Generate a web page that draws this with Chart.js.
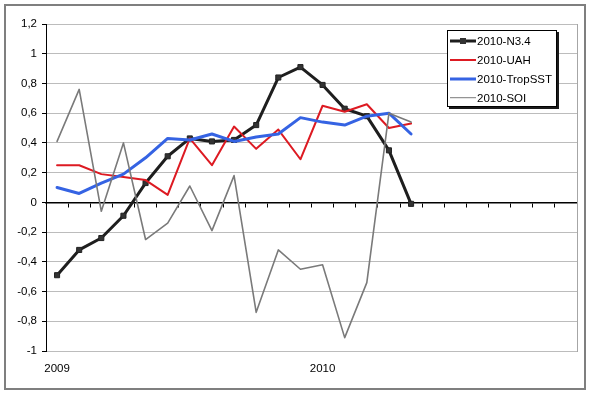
<!DOCTYPE html>
<html><head><meta charset="utf-8">
<script src="https://cdn.jsdelivr.net/npm/chart.js@4"></script>
<style>
html,body{margin:0;padding:0;background:#fff;}
#wrap{position:relative;width:590px;height:395px;overflow:hidden;background:#fff;}
#c{position:absolute;left:0;top:0;}
#frame{position:absolute;left:4px;top:4px;width:578px;height:382px;border:2px solid #7f7f7f;pointer-events:none;}
#legend{position:absolute;left:447px;top:30px;width:108px;height:75px;border:1px solid #000;box-shadow:2px 2px 0 #1a1a1a;background:#fff;font:11.5px "Liberation Sans",Arial,sans-serif;color:#000;}
.row{height:19px;display:flex;align-items:center;white-space:nowrap;}
.sample{position:relative;width:26px;height:19px;margin-left:2px;margin-right:1px;flex:none;}
.ln{position:absolute;left:0;width:26px;top:50%;transform:translateY(-50%);}
.mk{position:absolute;left:10px;top:50%;width:6px;height:6px;transform:translateY(-50%);}
</style>
</head>
<body>
<div id="wrap">
  <canvas id="c" width="590" height="395"></canvas>
  <div id="frame"></div>
  <div id="legend"></div>
</div>
<script>
// ---- data ----
const months = ['2009-01','2009-02','2009-03','2009-04','2009-05','2009-06','2009-07','2009-08','2009-09','2009-10','2009-11','2009-12',
                '2010-01','2010-02','2010-03','2010-04','2010-05','2010-06','2010-07','2010-08','2010-09','2010-10','2010-11','2010-12'];
const xTickLabels = ['2009','','','','','','','','','','','',
                     '2010','','','','','','','','','','',''];
const seriesNames = ['2010-N3.4','2010-UAH','2010-TropSST','2010-SOI'];
const n34     = [-0.49,-0.32,-0.24,-0.09,0.13,0.31,0.43,0.41,0.42,0.52,0.84,0.91,0.79,0.63,0.58,0.35,-0.01];
const uah     = [0.25,0.25,0.19,0.17,0.15,0.05,0.43,0.25,0.51,0.36,0.49,0.29,0.65,0.61,0.66,0.50,0.53];
const tropSST = [0.10,0.06,0.13,0.19,0.30,0.43,0.42,0.46,0.41,0.44,0.46,0.57,0.54,0.52,0.58,0.60,0.46];
const soi     = [0.41,0.76,-0.06,0.40,-0.25,-0.14,0.11,-0.19,0.18,-0.74,-0.32,-0.45,-0.42,-0.91,-0.54,0.60,0.54];
const yMin = -1, yMax = 1.2, yStep = 0.2;

const FONT = {family:'"Liberation Sans", Arial, sans-serif', size:11.5};
const fmt = v => Number(v.toFixed(1)).toString().replace('.', ',');

const base = {fill:false, tension:0, borderJoinStyle:'round', borderCapStyle:'round', spanGaps:false};
const datasets = [
  Object.assign({}, base, {label:seriesNames[0], data:n34, borderColor:'#1e1e1e', borderWidth:3,
    pointStyle:'rect', pointRadius:3.6, pointBorderWidth:1, pointBackgroundColor:'#333', pointBorderColor:'#222', order:4}),
  Object.assign({}, base, {label:seriesNames[1], data:uah, borderColor:'#dd1a22', borderWidth:2, pointRadius:0, order:3}),
  Object.assign({}, base, {label:seriesNames[2], data:tropSST, borderColor:'#3563e3', borderWidth:3, pointRadius:0, order:2}),
  Object.assign({}, base, {label:seriesNames[3], data:soi, borderColor:'#7a7a7a', borderWidth:1.6, pointRadius:0, order:1})
];

const chart = new Chart(document.getElementById('c'), {
  type:'line',
  data:{labels:months, datasets},
  options:{
    responsive:false, animation:false, events:[],
    layout:{padding:{left:0, right:13, top:24, bottom:0}},
    plugins:{legend:{display:false}, tooltip:{enabled:false}, title:{display:false}},
    scales:{
      x:{type:'category', position:{y:0}, offset:true,
         grid:{offset:true, drawOnChartArea:false, drawTicks:true, tickLength:4, color:'#000', tickColor:'#000', lineWidth:1},
         border:{display:true, color:'#000', width:1.5},
         ticks:{display:false, autoSkip:false}},
      x2:{type:'category', position:'bottom', offset:true,
          grid:{display:false, drawTicks:false, drawOnChartArea:false},
          border:{display:false},
          ticks:{autoSkip:false, maxRotation:0, minRotation:0, padding:11, color:'#000', font:FONT,
                 callback:(v,i)=>xTickLabels[i]},
          afterFit:s=>{s.height = 44;}},
      y:{type:'linear', position:'left', min:yMin, max:yMax,
         ticks:{stepSize:yStep, padding:5, color:'#000', font:FONT, callback:v=>fmt(v)},
         grid:{color:c=>(c.tick && Math.abs(c.tick.value) < 1e-9) ? '#000' : '#bcbcbc', lineWidth:1,
               tickColor:'#000', tickLength:4, drawTicks:true},
         border:{display:true, color:'#000', width:1},
         afterFit:s=>{s.width = 46;}},
      y2:{type:'linear', position:'right', min:yMin, max:yMax,
          ticks:{display:false},
          grid:{drawOnChartArea:false, drawTicks:false},
          border:{display:true, color:'#a6a6a6', width:1},
          afterFit:s=>{s.width = 0;}}
    }
  }
});

// HTML legend built from the chart's datasets
const legendEl = document.getElementById('legend');
chart.data.datasets.forEach(ds => {
  const row = document.createElement('div'); row.className = 'row';
  const s = document.createElement('span'); s.className = 'sample';
  const ln = document.createElement('span'); ln.className = 'ln';
  ln.style.height = ds.borderWidth + 'px'; ln.style.background = ds.borderColor;
  s.appendChild(ln);
  if (ds.pointRadius > 0) {
    const mk = document.createElement('span'); mk.className = 'mk';
    mk.style.background = ds.pointBackgroundColor; s.appendChild(mk);
  }
  const t = document.createElement('span'); t.textContent = ds.label;
  row.appendChild(s); row.appendChild(t);
  legendEl.appendChild(row);
});
</script>
</body></html>
